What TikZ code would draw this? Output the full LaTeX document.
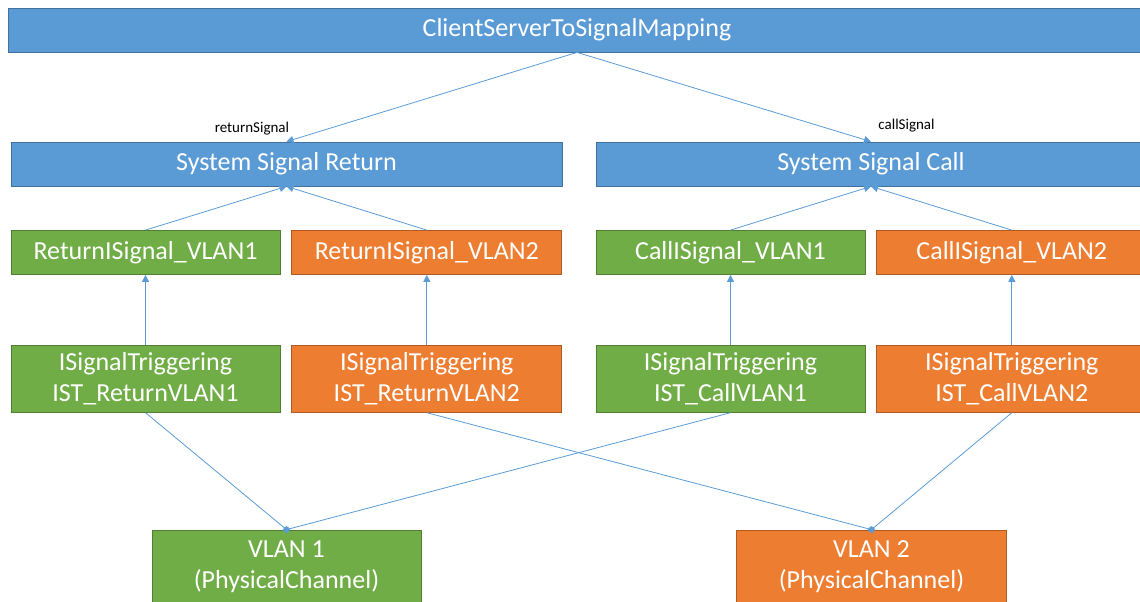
\documentclass[tikz,border=0pt]{standalone}
\usepackage{fontspec}
\setmainfont{Carlito}
\usetikzlibrary{arrows.meta, positioning}
\usepackage{xcolor}
\definecolor{boxblue}{HTML}{5B9BD5}
\definecolor{edgeblue}{HTML}{41719C}
\definecolor{vlangreen}{HTML}{70AD47}
\definecolor{edgegreen}{HTML}{507E32}
\definecolor{vlanorange}{HTML}{ED7D31}
\definecolor{edgeorange}{HTML}{AE5A21}

\begin{document}
\begin{tikzpicture}[
    x=1pt, y=-1pt,
    box/.style={draw, line width=0.8pt, minimum height=44pt, inner sep=0pt, font=\fontsize{26}{31}\selectfont, text=white, align=center},
    sigbox/.style={box, fill=boxblue, draw=edgeblue},
    grnbox/.style={box, fill=vlangreen, draw=edgegreen, minimum width=269pt},
    orgbox/.style={box, fill=vlanorange, draw=edgeorange, minimum width=270pt},
    arr/.style={-{Triangle[length=7pt, width=7pt]}, boxblue, line width=0.8pt},
    link/.style={-{Square[length=5pt, width=5pt]}, shorten >=-2.5pt, boxblue, line width=0.8pt},
    lbl/.style={font=\fontsize{15}{17}\selectfont, inner sep=1pt, text=black},
]
\useasboundingbox (0,0) rectangle (1140,602);

\node[sigbox, minimum width=1138pt] (csmap) at (577,30) {ClientServerToSignalMapping};
\node[sigbox, minimum width=551pt] (ssret) at (286.5,164) {System Signal Return};
\node[sigbox, minimum width=550pt] (sscall) at (871,164) {System Signal Call};

\node[grnbox] (retv1) at (145.5,252.5) {ReturnISignal\_VLAN1};
\node[orgbox, right=11pt of retv1] (retv2) {ReturnISignal\_VLAN2};
\node[grnbox] (callv1) at (730.5,252.5) {CallISignal\_VLAN1};
\node[orgbox, right=11pt of callv1] (callv2) {CallISignal\_VLAN2};

\node[grnbox, minimum height=67pt, below=70pt of retv1] (istret1) {ISignalTriggering\\IST\_ReturnVLAN1};
\node[orgbox, minimum height=67pt, below=70pt of retv2] (istret2) {ISignalTriggering\\IST\_ReturnVLAN2};
\node[grnbox, minimum height=67pt, below=70pt of callv1] (istcall1) {ISignalTriggering\\IST\_CallVLAN1};
\node[orgbox, minimum height=67pt, below=70pt of callv2] (istcall2) {ISignalTriggering\\IST\_CallVLAN2};

\node[grnbox, minimum height=73pt] (vlan1) at (286.5,566.5) {VLAN 1\\(PhysicalChannel)};
\node[orgbox, minimum height=73pt] (vlan2) at (871.5,566.5) {VLAN 2\\(PhysicalChannel)};

% mapping to system signals
\draw[arr] (csmap.south) -- (ssret.north) node[lbl, anchor=south east, xshift=4pt, yshift=5pt] {returnSignal};
\draw[arr] (csmap.south) -- (sscall.north) node[lbl, anchor=south west, xshift=6pt, yshift=8pt] {callSignal};

\foreach \a/\b in {retv1/ssret, retv2/ssret, callv1/sscall, callv2/sscall, istret1/retv1, istret2/retv2, istcall1/callv1, istcall2/callv2} {
    \draw[arr] (\a.north) -- (\b.south);
}

% triggerings on physical channels
\foreach \a/\b in {istret1/vlan1, istcall1/vlan1, istret2/vlan2, istcall2/vlan2} {
    \draw[link] (\a.south) -- (\b.north);
}

\end{tikzpicture}
\end{document}
